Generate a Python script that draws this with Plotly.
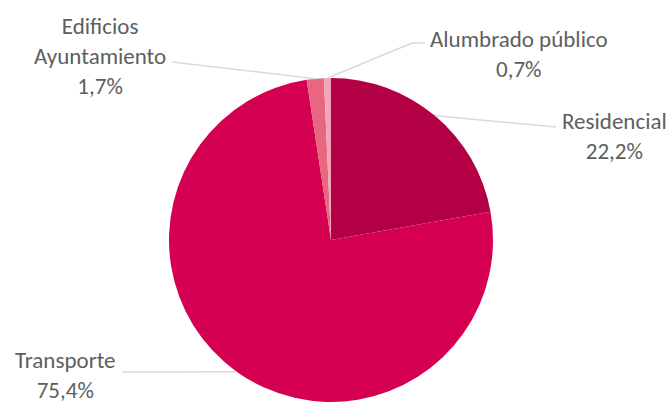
import plotly.graph_objects as go
import math

labels = ["Residencial", "Transporte", "Edificios Ayuntamiento", "Alumbrado público"]
values = [22.2, 75.4, 1.7, 0.7]
value_text = ["22,2%", "75,4%", "1,7%", "0,7%"]
colors = ["#B30045", "#D60052", "#E8667F", "#F2A6B9"]

W, H = 670, 406
cx, cy, r = 331, 240, 162

fig = go.Figure(go.Pie(
    labels=labels, values=values, sort=False, direction="clockwise", rotation=0,
    marker=dict(colors=colors, line=dict(width=0)),
    textinfo="none", hoverinfo="label+percent", showlegend=False,
    domain=dict(x=[(cx - r) / W, (cx + r) / W], y=[(H - cy - r) / H, (H - cy + r) / H]),
))

def px(x):
    return x / W

def py(y):
    return 1 - y / H

# label layout: (text lines, center x, anchor y, yanchor, leader end points)
label_layout = [
    (["Residencial", value_text[0]], 614, 135.5, "middle", [(556, 127)]),
    (["Transporte", value_text[1]], 65, 406, "bottom", [(122, 372)]),
    (["Edificios", "Ayuntamiento", value_text[2]], 100, 55.5, "middle", [(172, 62)]),
    (["Alumbrado público", value_text[3]], 519, 54, "middle", [(412, 43), (425, 43)]),
]

total = sum(values)
cum = 0
shapes = []
annotations = []
for i, v in enumerate(values):
    mid = (cum + v / 2) / total * 2 * math.pi
    cum += v
    sx = cx + r * math.sin(mid)
    sy = cy - r * math.cos(mid)
    lines, tx, ty, ya, pts = label_layout[i]
    path = f"M {px(sx)},{py(sy)}"
    for (x, y) in pts:
        path += f" L {px(x)},{py(y)}"
    shapes.append(dict(type="path", xref="paper", yref="paper", path=path,
                       line=dict(color="#D9D9D9", width=1.5)))
    annotations.append(dict(text="<br>".join(lines), x=px(tx), y=py(ty), xref="paper", yref="paper",
                            xanchor="center", yanchor=ya, align="center", showarrow=False,
                            font=dict(family="Carlito, Lato, sans-serif", size=23, color="#5E5E5E")))

fig.update_layout(
    width=W, height=H, margin=dict(l=0, r=0, t=0, b=0),
    paper_bgcolor="white", plot_bgcolor="white",
    shapes=shapes, annotations=annotations,
)
fig.write_html("out.html", config={"displayModeBar": False},
               post_script="document.body.style.margin='0';")
